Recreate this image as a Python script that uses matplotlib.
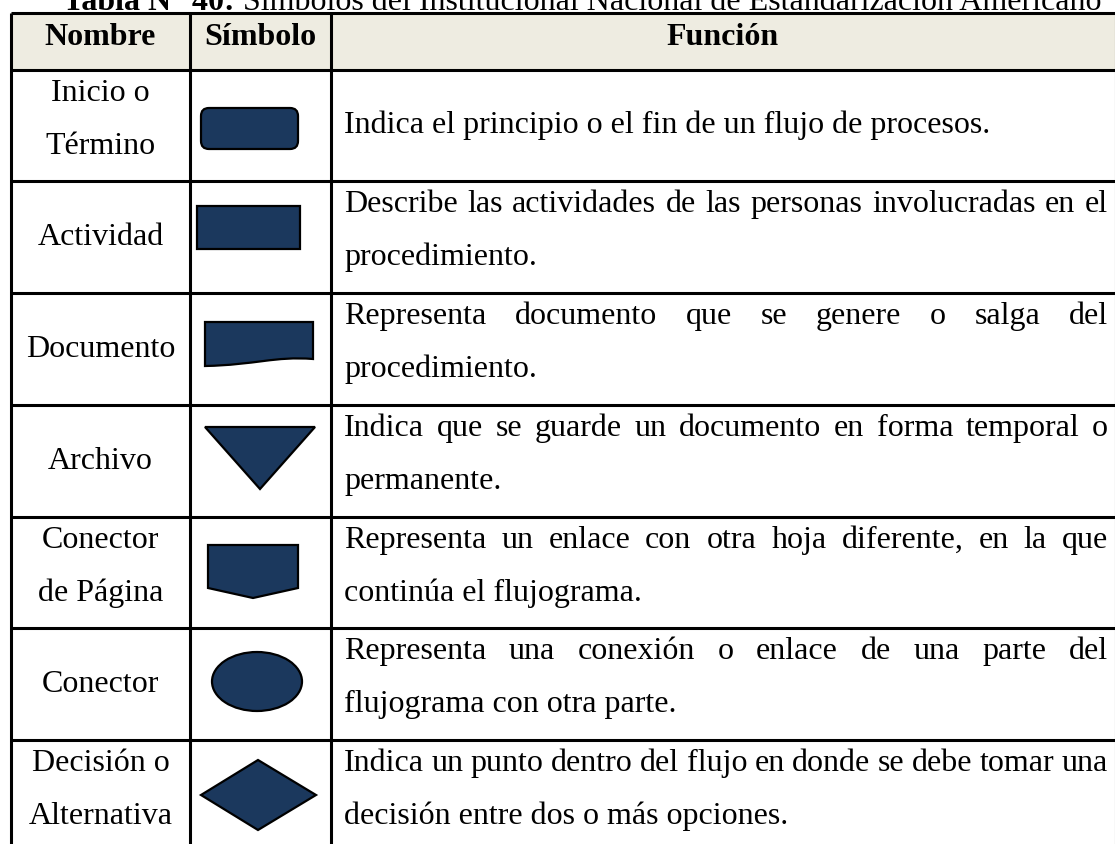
import matplotlib
matplotlib.use("Agg")
import matplotlib.pyplot as plt
from matplotlib.patches import Rectangle, FancyBboxPatch, Polygon, Ellipse, PathPatch
from matplotlib.path import Path

# ---------------- data ----------------
titulo_bold = "Tabla N° 40:"
titulo_rest = " Símbolos del Institucional Nacional de Estandarización Americano"
encabezados = ["Nombre", "Símbolo", "Función"]
nombres = [["Inicio o", "Término"], ["Actividad"], ["Documento"], ["Archivo"],
           ["Conector", "de Página"], ["Conector"], ["Decisión o", "Alternativa"]]
funciones = [
    ["Indica el principio o el fin de un flujo de procesos."],
    ["Describe las actividades de las personas involucradas en el", "procedimiento."],
    ["Representa documento que se genere o salga del", "procedimiento."],
    ["Indica que se guarde un documento en forma temporal o", "permanente."],
    ["Representa un enlace con otra hoja diferente, en la que", "continúa el flujograma."],
    ["Representa una conexión o enlace de una parte del", "flujograma con otra parte."],
    ["Indica un punto dentro del flujo en donde se debe tomar una", "decisión entre dos o más opciones."],
]
simbolos = ["terminal", "actividad", "documento", "archivo", "conector_pagina", "conector", "decision"]

# ---------------- layout ----------------
W, H = 1115, 844
col_x = [11, 190, 331, 1116]
head_top, head_bot = 13, 70
row_tops = [70, 181, 293, 405, 517, 628, 740]
row_bot_last = 852
FS = 23
FONT = "Liberation Serif"
FILL = "#1B385D"
HEAD_BG = "#EEECE1"

fig = plt.figure(figsize=(W / 100, H / 100), dpi=100)
ax = fig.add_axes([0, 0, 1, 1])
ax.set_xlim(0, W)
ax.set_ylim(H, 0)
ax.axis("off")
fig.patch.set_facecolor("white")
renderer = fig.canvas.get_renderer()


def width_of(s, weight="normal"):
    t = ax.text(0, 0, s, fontsize=FS, family=FONT, weight=weight)
    w = t.get_window_extent(renderer).width
    t.remove()
    return w


# header background
ax.add_patch(Rectangle((col_x[0], head_top), W - col_x[0], head_bot - head_top,
                       facecolor=HEAD_BG, edgecolor="none", zorder=0))

# title (partially cut at top)
wb = width_of(titulo_bold, "bold")
wr = width_of(titulo_rest)
tx0 = 582 - (wb + wr) / 2
ax.text(tx0, 10, titulo_bold, fontsize=FS, family=FONT, weight="bold", va="baseline", ha="left")
ax.text(tx0 + wb, 10, titulo_rest, fontsize=FS, family=FONT, va="baseline", ha="left")

# header texts
for i, h in enumerate(encabezados):
    cx = (col_x[i] + min(col_x[i + 1], W)) / 2
    ax.text(cx, 45, h, fontsize=FS, family=FONT, weight="bold", ha="center", va="baseline")

# grid lines
LW = 2.2
for y in [head_top, head_bot] + row_tops[1:]:
    ax.plot([col_x[0], W + 5], [y, y], color="black", lw=LW, solid_capstyle="butt", zorder=3)
for x in col_x:
    ax.plot([x, x], [head_top, H + 5], color="black", lw=LW, solid_capstyle="butt", zorder=3)

LS = 53  # line spacing


def draw_lines(lines, x0, x1, top, bot, justify):
    n = len(lines)
    if n == 1:
        bases = [(top + bot) / 2 + 8]
    else:
        bases = [top + 31 + k * LS for k in range(n)]
    for k, line in enumerate(lines):
        y = bases[k]
        if justify and k < n - 1:
            words = line.split(" ")
            ws = [width_of(w) for w in words]
            gap = (x1 - x0 - sum(ws)) / (len(words) - 1)
            x = x0
            for w, wd in zip(words, ws):
                ax.text(x, y, w, fontsize=FS, family=FONT, ha="left", va="baseline")
                x += wd + gap
        elif justify:
            ax.text(x0, y, line, fontsize=FS, family=FONT, ha="left", va="baseline")
        else:
            ax.text((x0 + x1) / 2, y, line, fontsize=FS, family=FONT, ha="center", va="baseline")


def draw_symbol(kind, top):
    kw = dict(facecolor=FILL, edgecolor="black", lw=1.6, zorder=4, joinstyle="miter")
    o = top - row_tops[0]
    if kind == "terminal":
        ax.add_patch(FancyBboxPatch((201, 38 + top), 97, 41,
                                    boxstyle="round,pad=0,rounding_size=8", **kw))
    elif kind == "actividad":
        ax.add_patch(Rectangle((197, top + 25), 103, 43, **kw))
    elif kind == "documento":
        verts = [(205, top + 29), (313, top + 29), (313, top + 66),
                 (275, top + 63), (255, top + 72), (205, top + 73), (205, top + 29)]
        codes = [Path.MOVETO, Path.LINETO, Path.LINETO,
                 Path.CURVE4, Path.CURVE4, Path.CURVE4, Path.CLOSEPOLY]
        ax.add_patch(PathPatch(Path(verts, codes), **kw))
    elif kind == "archivo":
        ax.add_patch(Polygon([(205, top + 22), (315, top + 22), (260, top + 84)], closed=True, **kw))
    elif kind == "conector_pagina":
        ax.add_patch(Polygon([(208, top + 28), (298, top + 28), (298, top + 71),
                              (253, top + 81), (208, top + 71)], closed=True, **kw))
    elif kind == "conector":
        ax.add_patch(Ellipse((257, top + 53.5), 90, 59, **kw))
    elif kind == "decision":
        ax.add_patch(Polygon([(201, top + 55), (258, top + 20), (316, top + 55),
                              (258, top + 90)], closed=True, **kw))


tops = row_tops + [row_bot_last]
for i in range(len(nombres)):
    top, bot = tops[i], tops[i + 1]
    draw_lines(nombres[i], col_x[0], col_x[1], top, bot, justify=False)
    draw_symbol(simbolos[i], top)
    draw_lines(funciones[i], 344, 1108, top, bot, justify=True)

fig.savefig("out.png", dpi=100, facecolor="white")
